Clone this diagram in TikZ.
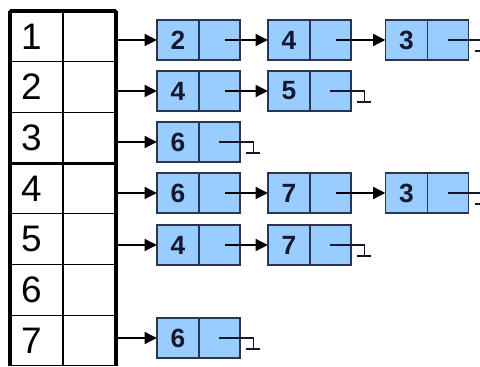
\documentclass[tikz,border=0pt]{standalone}
\usepackage{fontspec}
\setmainfont{Liberation Sans}
\usetikzlibrary{positioning,arrows.meta}
\definecolor{cellblue}{HTML}{99CCFF}
\definecolor{celledge}{HTML}{2B3550}
\definecolor{digit}{HTML}{141830}

\begin{document}
\begin{tikzpicture}[x=0.02cm,y=-0.02cm,
  idx/.style={draw,line width=0.6pt,minimum height=1.014cm,text width=0.62cm,inner xsep=0.22cm,
    align=left,outer sep=0pt,font=\fontsize{21}{21}\selectfont},
  idxp/.style={draw,line width=0.6pt,minimum height=1.014cm,minimum width=1.06cm,outer sep=0pt},
  key/.style={draw=celledge,fill=cellblue,line width=0.9pt,minimum width=0.84cm,minimum height=0.8cm,
    inner sep=0pt,outer sep=0pt,text=digit,font=\fontsize{15}{15}\selectfont\bfseries},
  ptr/.style={key,minimum width=0.82cm},
  link/.style={line width=1.7pt,-{Triangle[length=7pt,width=6.5pt]}},
  nil/.style={line width=0.6pt,draw=digit}]
  \useasboundingbox (0,0) rectangle (480,367);
  \clip (0,0) rectangle (480,365.5);

  % adjacency table
  \foreach \i in {1,...,7}{
    \node[idx] (k\i) at (36.5,{11+50.7*(\i-0.5)}) {\i};
    \node[idxp,right=0pt of k\i] (p\i) {};
  }
  \draw[line width=2pt] (k1.north west) -- (p1.north east);
  \draw[line width=1.8pt] (k3.south west) -- (p3.south east);
  \draw[line width=2.2pt] (k1.north west) -- ([yshift=-1cm]k7.south west);
  \draw[line width=2pt] (p1.north east) -- ([yshift=-1cm]p7.south east);

  % list elements
  \foreach \n/\pos/\v in {a1/{178,40}/2,b1/{289,40}/4,c1/{406.5,40}/3,
                          a2/{178,91}/4,b2/{289,91}/5,
                          a3/{178,142}/6,
                          a4/{178,193}/6,b4/{289,193}/7,c4/{406.5,193}/3,
                          a5/{178,245}/4,b5/{289,245}/7,
                          a7/{178,338}/6}{
    \node[key] (\n) at (\pos) {\v};
    \node[ptr,right=0pt of \n] (\n-p) {};
  }

  % heads
  \foreach \i/\n in {1/a1,2/a2,3/a3,4/a4,5/a5,7/a7}
    \draw[link] (p\i.east |- \n.west) -- (\n.west);
  % next pointers
  \foreach \s/\t in {a1/b1,b1/c1,a2/b2,a4/b4,b4/c4,a5/b5}
    \draw[link] ([xshift=3pt]\s-p.center) -- (\t.west);
  % nil
  \foreach \t in {c1,b2,a3,c4,b5,a7}
    \draw[nil] (\t-p.center) -- ++(34,0) -- ++(0,11) ++(-7,0) -- ++(14,0);
\end{tikzpicture}
\end{document}
